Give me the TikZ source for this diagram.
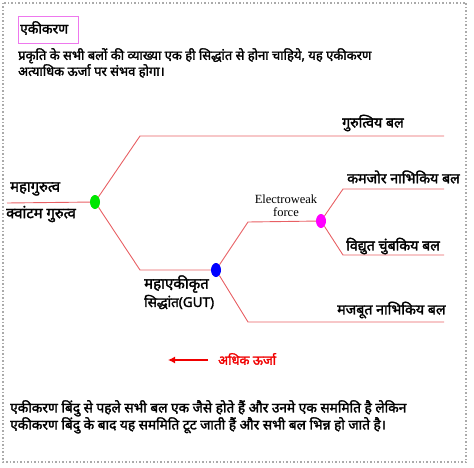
\documentclass[tikz,border=0pt]{standalone}
\usepackage{fontspec}
\newfontfamily\hin[Script=Devanagari,FakeBold=2]{Noto Sans}
\newfontfamily\tnr{Liberation Serif}
\usetikzlibrary{arrows.meta,shapes.geometric}
\definecolor{ln}{RGB}{232,96,100}
\definecolor{frame}{RGB}{170,170,170}
\definecolor{boxc}{RGB}{238,120,238}
\definecolor{dgreen}{RGB}{0,230,0}
\definecolor{dblue}{RGB}{0,0,255}
\definecolor{dmag}{RGB}{255,0,255}
\definecolor{ared}{RGB}{240,0,0}
\tikzset{
  hd/.style={font=\hin\fontsize{13}{16}\selectfont, inner sep=0pt, text=black},
  lab/.style={hd, anchor=west},
  flab/.style={lab, font=\hin\fontsize{14.2}{16}\selectfont},
  dot/.style={ellipse, minimum width=10pt, minimum height=14pt, inner sep=0pt, draw=none},
  br/.style={draw=ln, line width=0.9pt},
}
\begin{document}
\begin{tikzpicture}[x=1pt,y=-1pt]
\useasboundingbox (0,0) rectangle (474,468);
\draw[frame, dotted, line width=1.5pt] (3,3) rectangle (466,462);
% title
\node[draw=boxc, line width=1pt, minimum width=60pt, minimum height=27pt, anchor=north west, inner sep=0pt] (tbox) at (18,16) {};
\node[lab, font=\hin\fontsize{13.8}{16}\selectfont] (title) at (20,28) {एकीकरण};
\node[lab, align=left, anchor=north west, font=\hin\fontsize{13}{16}\selectfont] (para) at (18,48) {प्रकृति के सभी बलों की व्याख्या एक ही सिद्धांत से होना चाहिये, यह एकीकरण\\अत्याधिक ऊर्जा पर संभव होगा।};
% left
\coordinate (L) at (7,203);
\node[flab, font=\hin\fontsize{14.8}{16}\selectfont] (mg) at (10,189) {महागुरुत्व};
\node[flab, font=\hin\fontsize{14.8}{16}\selectfont] (qg) at (6,214) {क्वांटम गुरुत्व};
\node[dot, fill=dgreen] (g) at (95,202) {};
\coordinate (u1) at (140,136);
\coordinate (u2) at (444,136);
\coordinate (d1) at (140,270);
\node[dot, fill=dblue] (b) at (216,270) {};
\coordinate (bu) at (248,222);
\node[dot, fill=dmag] (m) at (321,221) {};
\coordinate (bd) at (248,322);
\coordinate (bd2) at (444,322);
\coordinate (mu) at (343,189);
\coordinate (mu2) at (444,189);
\coordinate (md) at (343,255);
\coordinate (md2) at (444,255);
\draw[br] (L) -- (g);
\draw[br] (g) -- (u1) -- (u2);
\draw[br] (g) -- (d1) -- (b);
\draw[br] (b) -- (bu) -- (m);
\draw[br] (b) -- (bd) -- (bd2);
\draw[br] (m) -- (mu) -- (mu2);
\draw[br] (m) -- (md) -- (md2);
% labels
\node[flab] (grav) at (342,123) {गुरुत्विय बल};
\node[flab] (weak) at (347,177) {कमजोर नाभिकिय बल};
\node[flab] (em) at (346,246) {विद्युत चुंबकिय बल};
\node[flab] (strong) at (337,310) {मजबूत नाभिकिय बल};
\node[flab, font=\hin\fontsize{15}{16}\selectfont] (gut1) at (144,284) {महाएकीकृत};
\node[flab, font=\hin\fontsize{13.5}{16}\selectfont] (gut2) at (144,302) {सिद्धांत(GUT)};
\node[font=\tnr\fontsize{12.5}{13}\selectfont, align=center, inner sep=0pt] (ew) at (286,206) {Electroweak\\force};
% arrow
\coordinate (a1) at (208,360);
\coordinate (a2) at (168,360);
\draw[ared, line width=1.2pt, -{Latex[length=7pt,width=7pt]}] (a1) -- (a2);
\node[lab, text=ared] (energy) at (218,359) {अधिक ऊर्जा};
% bottom
\node[lab, align=left, anchor=north west, font=\hin\fontsize{13.7}{17}\selectfont] (bot) at (10,400) {एकीकरण बिंदु से पहले सभी बल एक जैसे होते हैं और उनमे एक सममिति है लेकिन\\एकीकरण बिंदु के बाद यह सममिति टूट जाती हैं और सभी बल भिन्न हो जाते है।};
\end{tikzpicture}
\end{document}
